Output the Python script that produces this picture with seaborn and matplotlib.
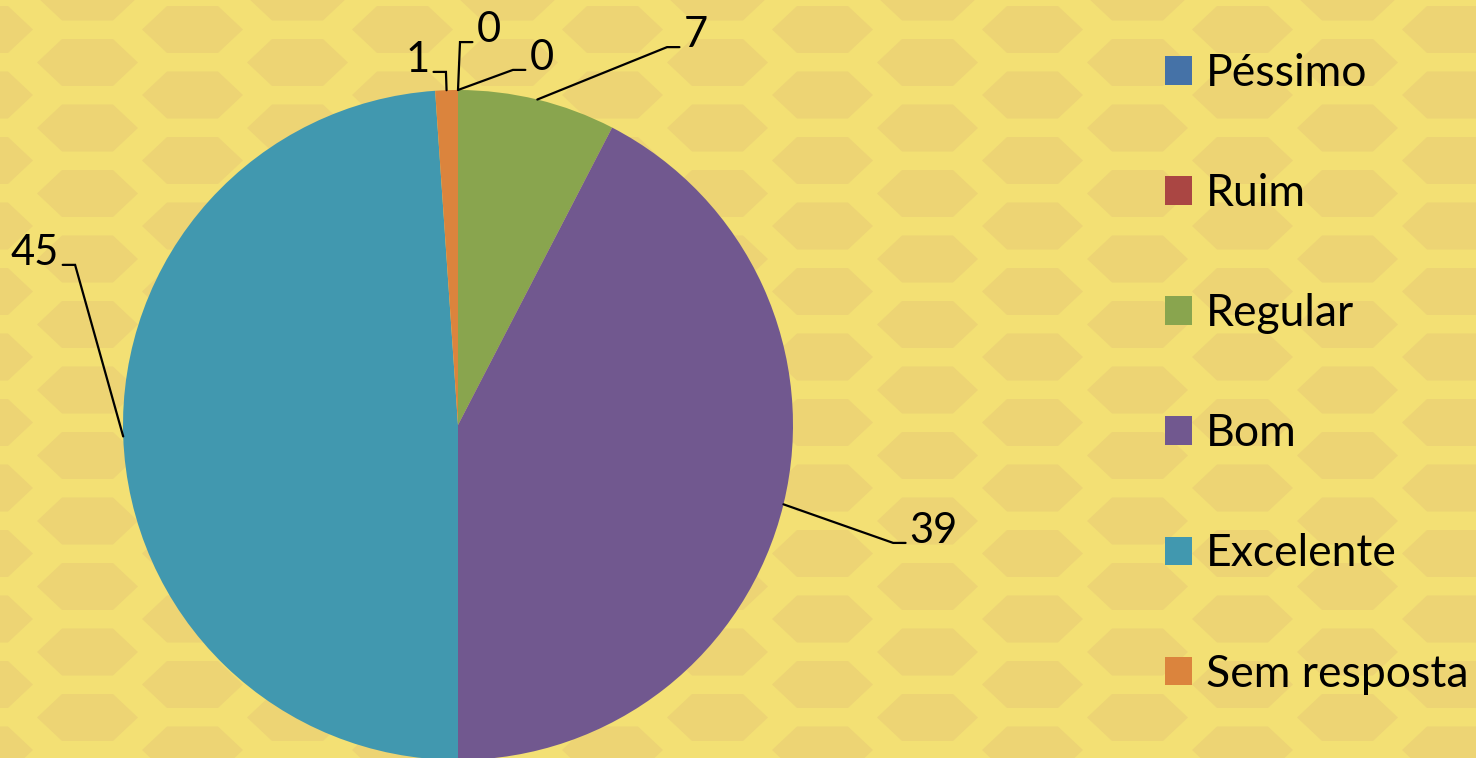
import numpy as np
import matplotlib.pyplot as plt
import matplotlib.patches as mpatches
import seaborn as sns

# data
categories = ["Péssimo", "Ruim", "Regular", "Bom", "Excelente", "Sem resposta"]
values = [0, 0, 7, 39, 45, 1]
colors = sns.color_palette(["#4572A7", "#AA4643", "#89A54E", "#71588F", "#4198AF", "#DB843D"])

# label elbow positions (data units, pie radius = 1) and side
label_elbow = [(0.006, 1.143), (0.164, 1.060), (0.624, 1.128),
               (1.299, -0.352), (-1.143, 0.478), (-0.036, 1.054)]
label_side = [1, 1, 1, 1, -1, -1]

sns.set_theme(style="white")
plt.rcParams["font.family"] = ["Lato", "DejaVu Sans"]

W, H = 1476, 758
fig = plt.figure(figsize=(W / 100, H / 100), dpi=100)
fig.patch.set_facecolor("#F3E074")

# honeycomb background
bg = fig.add_axes([0, 0, 1, 1])
bg.set_xlim(0, W)
bg.set_ylim(H, 0)
bg.axis("off")
hw, hh, tip = 50.5, 23.5, 25
col = 0
for cx in np.arange(-17.5, W + 110, 105):
    off = 30 if col % 2 == 0 else 63
    for cy in np.arange(off - 66, H + 70, 65.5):
        pts = [(cx - hw, cy), (cx - hw + tip, cy - hh), (cx + hw - tip, cy - hh),
               (cx + hw, cy), (cx + hw - tip, cy + hh), (cx - hw + tip, cy + hh)]
        bg.add_patch(mpatches.Polygon(pts, closed=True, facecolor="#EDD474",
                                      edgecolor="none"))
    col += 1

# pie
r_px = 335
cx_px, cy_px = 458, 425
ax = fig.add_axes([(cx_px - r_px) / W, (H - cy_px - r_px) / H, 2 * r_px / W, 2 * r_px / H])
wedges, _ = ax.pie(values, colors=colors, startangle=90, counterclock=False,
                   radius=1, wedgeprops=dict(linewidth=0))
ax.set_xlim(-1, 1)
ax.set_ylim(-1, 1)
ax.axis("off")

for w, v, (ex, ey), side in zip(wedges, values, label_elbow, label_side):
    ang = np.deg2rad((w.theta1 + w.theta2) / 2)
    sx, sy = np.cos(ang), np.sin(ang)
    endx = ex + side * 0.037
    ax.plot([sx, ex, endx], [sy, ey, ey], color="black", lw=1.6,
            solid_joinstyle="miter", clip_on=False)
    ax.text(endx + side * 0.012, ey, str(v), ha="left" if side > 0 else "right",
            va="baseline", fontsize=30, color="black")

fs = 32
fig.legend(wedges, categories, loc="upper left",
           bbox_to_anchor=(1165 / W, 1 - 53 / H), frameon=False,
           fontsize=fs, handlelength=0.61, handleheight=0.61, labelcolor="black",
           handletextpad=0.32, labelspacing=1.78, borderpad=0, borderaxespad=0)

fig.savefig("out.png", dpi=100, facecolor=fig.get_facecolor())
